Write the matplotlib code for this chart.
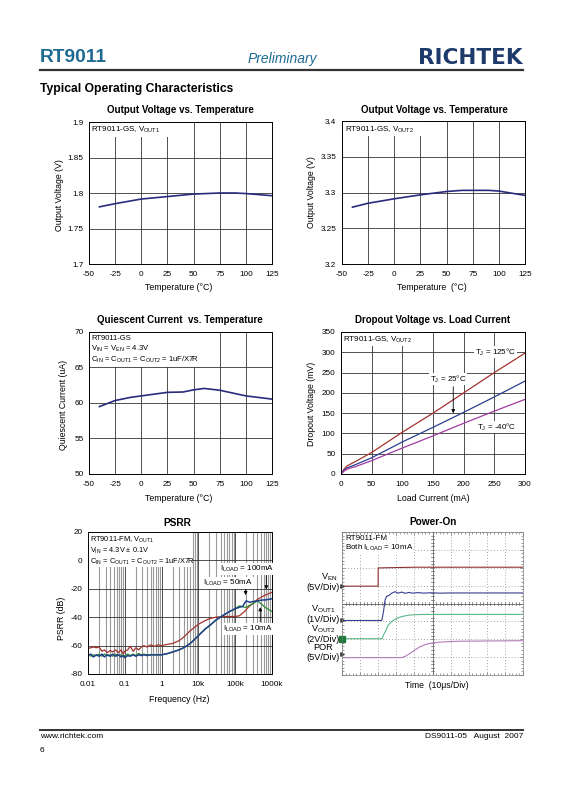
import matplotlib
matplotlib.use('Agg')
import matplotlib.pyplot as plt
from matplotlib.patches import Rectangle
from matplotlib.lines import Line2D
from matplotlib.ticker import LogLocator, NullFormatter
import numpy as np

plt.rcParams['font.family'] = ['Liberation Sans', 'DejaVu Sans']
plt.rcParams['mathtext.fontset'] = 'custom'
plt.rcParams['mathtext.rm'] = 'Liberation Sans'
plt.rcParams['mathtext.it'] = 'Liberation Sans:italic'
plt.rcParams['mathtext.bf'] = 'Liberation Sans:bold'
plt.rcParams['mathtext.default'] = 'rm'
plt.rcParams['axes.unicode_minus'] = False

W, H = 565, 800

# --- data ---
temp1 = [-40, -25, 0, 25, 50, 75, 90, 100, 125]
vout1 = [1.7805, 1.7850, 1.7915, 1.7950, 1.7985, 1.8000, 1.8000, 1.7992, 1.7962]

temp2 = [-40, -25, 0, 25, 50, 65, 75, 90, 100, 125]
vout2 = [3.2795, 3.2850, 3.2912, 3.2967, 3.3014, 3.3030, 3.3030, 3.3030, 3.3020, 3.2960]

temp3 = [-40, -25, -10, 0, 25, 40, 50, 60, 75, 100, 125]
iq = [59.5, 60.35, 60.8, 61.0, 61.5, 61.55, 61.85, 62.05, 61.8, 61.0, 60.55]

iload = [0, 5, 10, 25, 50, 100, 150, 200, 250, 300]
vdrop_125 = [0, 12, 20, 32, 53, 103, 150, 200, 250, 298]
vdrop_25 = [0, 9, 15, 24, 40, 79, 115, 152, 190, 229]
vdrop_m40 = [0, 7, 12, 19, 33, 64, 94, 125, 155, 184]

temp_ticks = [-50, -25, 0, 25, 50, 75, 100, 125]

# PSRR, frequency in kHz
freq = [0.01, 0.012, 0.014, 0.017, 0.02, 0.024, 0.028, 0.033, 0.04, 0.047,
        0.056, 0.066, 0.08, 0.09, 0.1, 0.12, 0.14, 0.17, 0.2, 0.24,
        0.28, 0.33, 0.4, 0.5, 0.65, 0.8, 1, 1.5, 2, 3,
        4, 6, 8, 10, 15, 20, 30, 45, 70, 100,
        130, 160, 180, 200, 250, 300, 400, 500, 650, 800, 1000]
psrr_100ma = [-62, -61.5, -61, -61.5, -61, -64, -63, -65, -63.5, -64.5,
              -63, -65, -63, -66, -64, -63, -60.5, -64, -61.5, -63,
              -61, -60, -61, -59.5, -60.5, -59.5, -60, -59, -58.5, -56.5,
              -54, -49.5, -47, -45, -42.5, -41, -40, -39.5, -39.5, -39.5,
              -39, -37, -36, -34.5, -32, -30.5, -27.5, -26, -24.5, -23.5, -22.5]
psrr_50ma = [-67, -66, -68, -66.5, -67.5, -66, -68, -66.5, -67.5, -66,
             -67.5, -66.5, -68, -67, -68.5, -67, -67.5, -66.5, -67.5, -66.5,
             -67, -66.5, -67, -66.5, -66.5, -66.5, -66.5, -65.5, -64.5, -63,
             -61.5, -58.5, -55.5, -53, -48.5, -46, -42, -39, -36, -34,
             -33, -32.5, -30, -28.5, -29.5, -29, -28.5, -28, -27.8, -27.5, -27]
psrr_10ma = [-66, -67.5, -66.5, -67, -66, -67.5, -66, -67, -66.5, -67.5,
             -66, -67, -66.5, -67.5, -67, -66, -67, -66, -67, -65.5,
             -66.5, -66, -66.5, -66.5, -66.5, -66.5, -66.5, -65.5, -64.5, -63,
             -61.5, -58.5, -55.5, -53, -48.5, -46, -42, -39, -36, -34,
             -32, -32.5, -33, -33, -31.5, -30.5, -28.5, -30.5, -33, -34.5, -36]
psrr_ticks = [0.01, 0.1, 1, 10, 100, 1000]
psrr_ticklabels = ['0.01', '0.1', '1', '10k', '100k', '1000k']

# Power-On scope traces, in divisions (10 x 8 screen)
ven_t = [0, 2.0, 2.0, 4.0, 10]
ven_v = [4.97, 4.97, 5.99, 6.03, 6.03]
vo1_t = [0, 2.2, 2.3, 2.38, 2.47, 2.6, 2.75, 2.93, 3.1, 3.3, 3.5, 3.7, 3.9, 4.2, 4.5, 4.9, 5.4, 6.0, 10]
vo1_v = [3.05, 3.05, 3.6, 4.2, 4.41, 4.45, 4.58, 4.66, 4.58, 4.64, 4.57, 4.62, 4.58, 4.61, 4.58, 4.6, 4.58, 4.59, 4.59]
vo2_t = [0, 2.22, 2.3, 2.4, 2.55, 2.75, 3.0, 3.3, 3.7, 4.2, 4.8, 10]
vo2_v = [2.03, 2.03, 2.25, 2.45, 2.78, 3.0, 3.16, 3.27, 3.35, 3.38, 3.39, 3.39]
por_t = [0, 3.3, 3.5, 3.76, 4.0, 4.31, 4.6, 4.86, 5.3, 5.78, 6.5, 7.6, 10]
por_v = [0.97, 0.97, 1.05, 1.21, 1.38, 1.58, 1.7, 1.77, 1.83, 1.86, 1.89, 1.9, 1.92]

LINE = '#2b2b7d'
TEAL = '#1f6a93'

fig = plt.figure(figsize=(W / 100, H / 100), dpi=100)


def px(x, y):
    return x / W, 1 - y / H


def ftext(x, y, s, **kw):
    kw.setdefault('ha', 'center')
    kw.setdefault('va', 'center')
    return fig.text(*px(x, y), s, **kw)


def add_ax(l, t, r, b):
    ax = fig.add_axes([l / W, 1 - b / H, (r - l) / W, (b - t) / H])
    ax.tick_params(length=0, labelsize=5.9)
    ax.tick_params(axis='x', pad=5)
    ax.tick_params(axis='y', pad=4)
    ax.set_axisbelow(True)
    for s in ax.spines.values():
        s.set_linewidth(0.7)
    return ax


def white_box(ax, x0, y0, x1, y1):
    fx0, fy1 = px(x0, y0)
    fx1, fy0 = px(x1, y1)
    ax.add_patch(Rectangle((fx0, fy0), fx1 - fx0, fy1 - fy0, transform=fig.transFigure,
                           facecolor='white', edgecolor='none', zorder=1.5))


# header / footer
ftext(40, 58, 'RT9011', ha='left', fontsize=13.8, fontweight='bold', color=TEAL)
ftext(282, 59, 'Preliminary', fontsize=10, style='italic', color=TEAL)
ftext(523, 58, 'RICHTEK', ha='right', fontsize=15.5, fontweight='bold', color='#1d3a6b',
      family=['DejaVu Sans'])
fig.add_artist(Line2D([40 / W, 523 / W], [1 - 70 / H] * 2, lw=1.6, color='#333333'))
ftext(40, 89, 'Typical Operating Characteristics', ha='left', fontsize=8.7, fontweight='bold')
fig.add_artist(Line2D([40 / W, 523 / W], [1 - 730 / H] * 2, lw=1.4, color='#333333'))
ftext(40, 737, 'www.richtek.com', ha='left', fontsize=6)
ftext(40, 750, '6', ha='left', fontsize=6)
ftext(523, 737, 'DS9011-05   August  2007', ha='right', fontsize=6)

GRID = dict(color='#333333', lw=0.6)

# 1: output voltage 1
ax1 = add_ax(89, 122, 272, 264)
ax1.plot(temp1, vout1, color=LINE, lw=1.2)
ax1.set_xlim(-50, 125)
ax1.set_ylim(1.7, 1.9)
ax1.set_xticks(temp_ticks)
ax1.set_yticks([1.7, 1.75, 1.8, 1.85, 1.9])
ax1.set_yticklabels(['1.7', '1.75', '1.8', '1.85', '1.9'])
ax1.grid(True, **GRID)
white_box(ax1, 89, 122, 170, 137)
ftext(91, 130, r'RT9011-GS, V$_{\mathregular{OUT1}}$', ha='left', fontsize=5.8)
ftext(180, 110, 'Output Voltage vs. Temperature', fontsize=7, fontweight='bold')
ftext(179, 288, 'Temperature (°C)', fontsize=6.3)
ftext(59, 195, 'Output Voltage (V)', rotation=90, fontsize=6.3)

# 2: output voltage 2
ax2 = add_ax(342, 121, 525, 264)
ax2.plot(temp2, vout2, color=LINE, lw=1.2)
ax2.set_xlim(-50, 125)
ax2.set_ylim(3.2, 3.4)
ax2.set_xticks(temp_ticks)
ax2.set_yticks([3.2, 3.25, 3.3, 3.35, 3.4])
ax2.set_yticklabels(['3.2', '3.25', '3.3', '3.35', '3.4'])
ax2.grid(True, **GRID)
white_box(ax2, 342, 121, 423, 136)
ftext(345, 130, r'RT9011-GS, V$_{\mathregular{OUT2}}$', ha='left', fontsize=5.8)
ftext(434, 110, 'Output Voltage vs. Temperature', fontsize=7, fontweight='bold')
ftext(432, 287, 'Temperature  (°C)', fontsize=6.3)
ftext(311, 192, 'Output Voltage (V)', rotation=90, fontsize=6.3)

# 3: quiescent current
ax3 = add_ax(89, 332, 272, 474)
ax3.plot(temp3, iq, color=LINE, lw=1.2)
ax3.set_xlim(-50, 125)
ax3.set_ylim(50, 70)
ax3.set_xticks(temp_ticks)
ax3.set_yticks([50, 55, 60, 65, 70])
ax3.grid(True, **GRID)
white_box(ax3, 89, 332, 199, 367)
ftext(91, 338, 'RT9011-GS', ha='left', fontsize=5.5)
ftext(91, 349, r'V$_{\mathregular{IN}}$ = V$_{\mathregular{EN}}$ = 4.3V', ha='left', fontsize=5.5)
ftext(91, 360, r'C$_{\mathregular{IN}}$ = C$_{\mathregular{OUT1}}$ = C$_{\mathregular{OUT2}}$ = 1uF/X7R',
      ha='left', fontsize=5.5)
ftext(180, 320, 'Quiescent Current  vs. Temperature', fontsize=7, fontweight='bold')
ftext(179, 498, 'Temperature (°C)', fontsize=6.3)
ftext(64, 405, 'Quiescent Current (uA)', rotation=90, fontsize=6.3)

# 4: dropout voltage
ax4 = add_ax(341, 332, 525, 474)
ax4.plot(iload, vdrop_125, color='#a3332e', lw=0.9)
ax4.plot(iload, vdrop_25, color='#2a3f8f', lw=0.9)
ax4.plot(iload, vdrop_m40, color='#a33aa3', lw=0.9)
ax4.set_xlim(0, 300)
ax4.set_ylim(0, 350)
ax4.set_xticks(range(0, 301, 50))
ax4.set_yticks(range(0, 351, 50))
ax4.grid(True, **GRID)
white_box(ax4, 341, 332, 422, 346)
ftext(343, 340, r'RT9011-GS, V$_{\mathregular{OUT2}}$', ha='left', fontsize=5.8)
wb = dict(facecolor='white', edgecolor='none', pad=0.6)
ftext(475, 352, r'T$_{\mathregular{J}}$ = 125°C', ha='left', fontsize=5.8, bbox=wb)
ftext(430, 379, r'T$_{\mathregular{J}}$ = 25°C', ha='left', fontsize=5.8, bbox=wb)
ftext(477, 427, r'T$_{\mathregular{J}}$ = -40°C', ha='left', fontsize=5.8, bbox=wb)
ax4.annotate('', xy=(183, 143), xytext=(183, 222),
             arrowprops=dict(arrowstyle='-|>', color='black', lw=0.6, mutation_scale=5))
ftext(433, 320, 'Dropout Voltage vs. Load Current', fontsize=7, fontweight='bold')
ftext(433, 498, 'Load Current (mA)', fontsize=6.3)
ftext(312, 404, 'Dropout Voltage (mV)', rotation=90, fontsize=6.3)

# 5: PSRR
ax5 = add_ax(88, 532, 272, 674)
ax5.set_xscale('log')
ax5.plot(freq, psrr_100ma, color='#a3332e', lw=0.9)
ax5.plot(freq, psrr_10ma, color='#2f8a2f', lw=0.9)
ax5.plot(freq, psrr_50ma, color='#1f3f8a', lw=1.1)
ax5.set_xlim(0.01, 1000)
ax5.set_ylim(-80, 20)
ax5.set_xticks(psrr_ticks)
ax5.set_xticklabels(psrr_ticklabels)
ax5.xaxis.set_minor_locator(LogLocator(base=10, subs=range(2, 10)))
ax5.xaxis.set_minor_formatter(NullFormatter())
ax5.tick_params(which='minor', length=0)
ax5.set_yticks(range(-80, 21, 20))
ax5.grid(True, which='major', **GRID)
ax5.grid(True, which='minor', axis='x', color='#9a9a9a', lw=0.8)
white_box(ax5, 88, 532, 192, 567)
ftext(90, 540, r'RT9011-FM, V$_{\mathregular{OUT1}}$', ha='left', fontsize=5.3)
ftext(90, 551, r'V$_{\mathregular{IN}}$ = 4.3V ± 0.1V', ha='left', fontsize=5.3)
ftext(90, 562, r'C$_{\mathregular{IN}}$ = C$_{\mathregular{OUT1}}$ = C$_{\mathregular{OUT2}}$ = 1uF/X7R',
      ha='left', fontsize=5.3)
ftext(220, 569, r'I$_{\mathregular{LOAD}}$ = 100mA', ha='left', fontsize=5.8, bbox=wb)
ftext(203, 583, r'I$_{\mathregular{LOAD}}$ = 50mA', ha='left', fontsize=5.8, bbox=wb)
ftext(223, 629, r'I$_{\mathregular{LOAD}}$ = 10mA', ha='left', fontsize=5.8, bbox=wb)
arr = dict(arrowstyle='-|>', color='black', lw=0.6, mutation_scale=5)
ax5.annotate('', xy=(700, -22.4), xytext=(700, -8.7), arrowprops=arr)
ax5.annotate('', xy=(192, -26.4), xytext=(192, -18.1), arrowprops=arr)
ax5.annotate('', xy=(480, -31), xytext=(480, -45.2), arrowprops=arr)
ftext(177, 523, 'PSRR', fontsize=7.3, fontweight='bold')
ftext(179, 699, 'Frequency (Hz)', fontsize=6.3)
ftext(62, 618, 'PSRR (dB)', rotation=90, fontsize=6.3)

# 6: Power-On scope shot
ax6 = fig.add_axes([342 / W, 1 - 675 / H, 181 / W, 143 / H])
ax6.set_xlim(0, 10)
ax6.set_ylim(0, 8)
ax6.set_xticks(np.arange(0, 10.01, 1))
ax6.set_yticks(np.arange(0, 8.01, 1))
ax6.set_xticks(np.arange(0, 10.01, 0.2), minor=True)
ax6.set_yticks(np.arange(0, 8.01, 0.2), minor=True)
ax6.tick_params(which='both', direction='in', top=True, right=True,
                labelbottom=False, labelleft=False, color='#777777', width=0.5)
ax6.tick_params(which='major', length=2.5)
ax6.tick_params(which='minor', length=1.2)
for s in ax6.spines.values():
    s.set_linestyle((0, (1, 1.5)))
    s.set_color('#777777')
    s.set_linewidth(0.6)
ax6.grid(True, which='major', color='#888888', lw=0.6, linestyle=(0, (1, 2.5)))
ax6.set_axisbelow(True)
ax6.axvline(5, color='#666666', lw=0.6, zorder=1)
ax6.axhline(4, color='#666666', lw=0.6, zorder=1)
for t in np.arange(0.2, 10, 0.2):
    ax6.plot([t, t], [3.92, 4.08], color='#666666', lw=0.5, zorder=1)
for t in np.arange(0.2, 8, 0.2):
    ax6.plot([4.93, 5.07], [t, t], color='#666666', lw=0.5, zorder=1)
ax6.plot(ven_t, ven_v, color='#8e3030', lw=0.8)
ax6.plot(vo1_t, vo1_v, color='#3a3d93', lw=0.8)
ax6.plot(vo2_t, vo2_v, color='#5cb88c', lw=0.8)
ax6.plot(por_t, por_v, color='#b27ab8', lw=0.8)
ax6.plot([0], [4.97], marker='>', ms=2.5, color='#444444', clip_on=False)
ax6.plot([0], [3.05], marker='>', ms=2.5, color='#444444', clip_on=False)
ax6.plot([0], [2.03], marker='s', ms=4, color='#1f7a3a', clip_on=False)
ax6.plot([0], [1.15], marker='>', ms=2.5, color='#444444', clip_on=False)
ftext(345, 538, 'RT9011-FM', ha='left', fontsize=5.8, bbox=dict(facecolor='white', edgecolor='none', pad=0))
ftext(345, 548, r'Both I$_{\mathregular{LOAD}}$ = 10mA', ha='left', fontsize=5.8,
      bbox=dict(facecolor='white', edgecolor='none', pad=0))
ftext(329, 577, r'V$_{\mathregular{EN}}$', fontsize=6.6)
ftext(323, 587, '(5V/Div)', fontsize=6.6)
ftext(323, 609, r'V$_{\mathregular{OUT1}}$', fontsize=6.6)
ftext(323, 619, '(1V/Div)', fontsize=6.6)
ftext(323, 629, r'V$_{\mathregular{OUT2}}$', fontsize=6.6)
ftext(323, 639, '(2V/Div)', fontsize=6.6)
ftext(323, 648, 'POR', fontsize=6.6)
ftext(323, 658, '(5V/Div)', fontsize=6.6)
ftext(433, 522, 'Power-On', fontsize=7.3, fontweight='bold')
ftext(437, 685, 'Time  (10μs/Div)', fontsize=6.2)

fig.savefig('out.png', dpi=100, facecolor='white')
